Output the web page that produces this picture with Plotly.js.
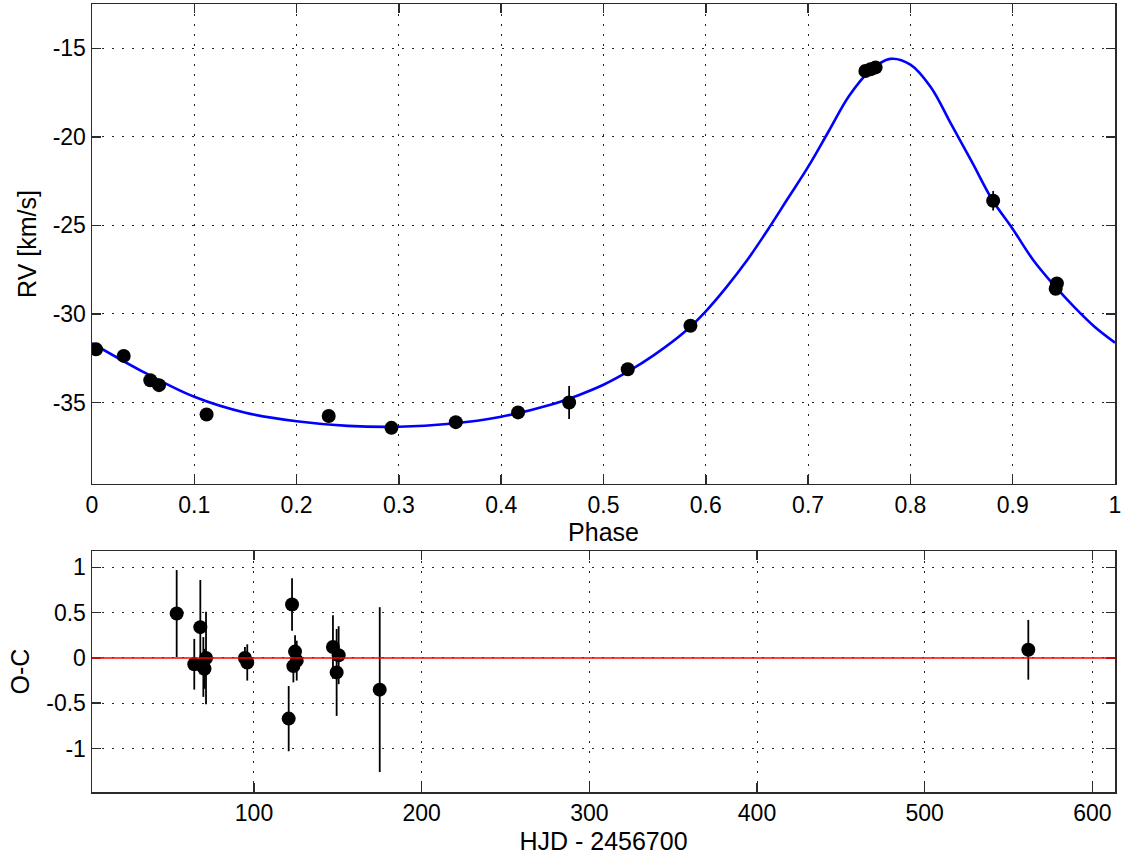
<!DOCTYPE html>
<html>
<head>
<meta charset="utf-8">
<script src="https://cdn.plot.ly/plotly-3.0.1.min.js"></script>
<style>
html,body{margin:0;padding:0;background:#fff;}
#chart{width:1121px;height:856px;}
</style>
</head>
<body>
<div id="chart"></div>
<script>
// Observed radial velocities (phase-folded)
const phase = [0.004, 0.031, 0.057, 0.0655, 0.112, 0.2314, 0.2927, 0.3556, 0.4165, 0.4664, 0.5237, 0.585, 0.756, 0.761, 0.766, 0.8809, 0.9420, 0.9432];
const rv    = [-32.0, -32.37, -33.74, -34.02, -35.68, -35.76, -36.43, -36.11, -35.56, -35.0, -33.12, -30.67, -16.28, -16.18, -16.08, -23.61, -28.58, -28.28];
const rvErr = [0.3, 0.3, 0.25, 0.3, 0.3, 0.3, 0.2, 0.3, 0.3, 0.93, 0.3, 0.3, 0.3, 0.3, 0.3, 0.55, 0.35, 0.35];

// Orbital solution curve
const fitPhase = [0, 0.05, 0.10, 0.15, 0.20, 0.25, 0.30, 0.35, 0.40, 0.45, 0.475, 0.50, 0.525, 0.55, 0.58, 0.60, 0.62, 0.64, 0.66, 0.68, 0.70, 0.72, 0.74, 0.76, 0.78, 0.80, 0.82, 0.84, 0.86, 0.88, 0.90, 0.92, 0.94, 0.96, 0.98, 1.0];
const fitRV    = [-31.65, -33.27, -34.68, -35.58, -36.06, -36.32, -36.37, -36.2, -35.8, -35.1, -34.6, -34.0, -33.22, -32.3, -30.98, -29.85, -28.5, -27.0, -25.3, -23.5, -21.7, -19.7, -17.7, -16.3, -15.6, -15.92, -17.2, -19.3, -21.4, -23.55, -25.2, -26.95, -28.35, -29.6, -30.72, -31.62];

// Residuals
const hjd   = [53.9, 64.4, 68.0, 69.8, 70.5, 71.4, 94.6, 96.0, 120.7, 122.7, 123.5, 124.5, 125.5, 147.1, 149.3, 150.5, 175.0, 561.8];
const oc    = [0.49, -0.07, 0.34, -0.10, -0.12, 0.0, 0.0, -0.05, -0.67, 0.59, -0.09, 0.07, -0.03, 0.12, -0.16, 0.03, -0.35, 0.09];
const ocErr = [0.48, 0.28, 0.52, 0.33, 0.22, 0.51, 0.12, 0.2, 0.36, 0.29, 0.18, 0.18, 0.22, 0.35, 0.48, 0.32, 0.91, 0.33];

const topXTicks = [0, 0.1, 0.2, 0.3, 0.4, 0.5, 0.6, 0.7, 0.8, 0.9, 1];
const topXText  = ['0', '0.1', '0.2', '0.3', '0.4', '0.5', '0.6', '0.7', '0.8', '0.9', '1'];
const topYTicks = [-35, -30, -25, -20, -15];
const topYText  = ['-35', '-30', '-25', '-20', '-15'];
const botXTicks = [100, 200, 300, 400, 500, 600];
const botXText  = ['100', '200', '300', '400', '500', '600'];
const botYTicks = [-1, -0.5, 0, 0.5, 1];
const botYText  = ['-1', '-0.5', '0', '0.5', '1'];

const FONT = 'Liberation Sans, Arial, Helvetica, sans-serif';
const tickFont = {family: FONT, size: 23, color: '#000'};
const titleFont = {family: FONT, size: 25, color: '#000'};

function axisBase(extra) {
  return Object.assign({
    showline: true, linecolor: '#2b2b2b', linewidth: 1.5, mirror: 'ticks',
    ticks: 'inside', ticklen: 9, tickwidth: 1.5, tickcolor: '#2b2b2b',
    showgrid: true, gridcolor: '#222', gridwidth: 1, griddash: '2px,8px',
    zeroline: false, tickfont: tickFont, automargin: false,
    tickmode: 'array', ticklabeloverflow: 'allow'
  }, extra);
}

const traces = [
  {x: fitPhase, y: fitRV, type: 'scatter', mode: 'lines',
   line: {color: '#0000ff', width: 2.6, shape: 'spline', smoothing: 1.0},
   xaxis: 'x', yaxis: 'y', hoverinfo: 'skip'},
  {x: phase, y: rv, type: 'scatter', mode: 'markers',
   marker: {color: '#000', size: 14},
   error_y: {type: 'data', array: rvErr, visible: true, color: '#000', thickness: 1.8, width: 0},
   xaxis: 'x', yaxis: 'y'},
  {x: hjd, y: oc, type: 'scatter', mode: 'markers',
   marker: {color: '#000', size: 14},
   error_y: {type: 'data', array: ocErr, visible: true, color: '#000', thickness: 1.8, width: 0},
   xaxis: 'x2', yaxis: 'y2'}
];

const layout = {
  width: 1121, height: 856,
  margin: {l: 92, r: 6, t: 4, b: 64},
  paper_bgcolor: '#fff', plot_bgcolor: '#fff',
  showlegend: false,
  font: {family: FONT, color: '#000'},
  xaxis: axisBase({domain: [0, 1], range: [0, 1], tickvals: topXTicks, ticktext: topXText, anchor: 'y',
    title: {text: 'Phase', font: titleFont, standoff: 4}}),
  yaxis: axisBase({domain: [0.3909, 1], range: [-39.6, -12.5], tickvals: topYTicks, ticktext: topYText, anchor: 'x',
    title: {text: 'RV [km/s]', font: titleFont, standoff: 9}}),
  xaxis2: axisBase({domain: [0, 1], range: [3.4, 613.5], tickvals: botXTicks, ticktext: botXText, anchor: 'y2',
    title: {text: 'HJD - 2456700', font: titleFont, standoff: 7}}),
  yaxis2: axisBase({domain: [0, 0.3058], range: [-1.48, 1.18], tickvals: botYTicks, ticktext: botYText, anchor: 'x2',
    title: {text: 'O-C', font: titleFont, standoff: 9}}),
  shapes: [
    {type: 'line', xref: 'x2 domain', yref: 'y2', x0: 0, x1: 1, y0: 0, y1: 0,
     line: {color: '#ff0000', width: 1.5}, layer: 'above'}
  ]
};

Plotly.newPlot('chart', traces, layout, {displayModeBar: false, staticPlot: true});
</script>
</body>
</html>
